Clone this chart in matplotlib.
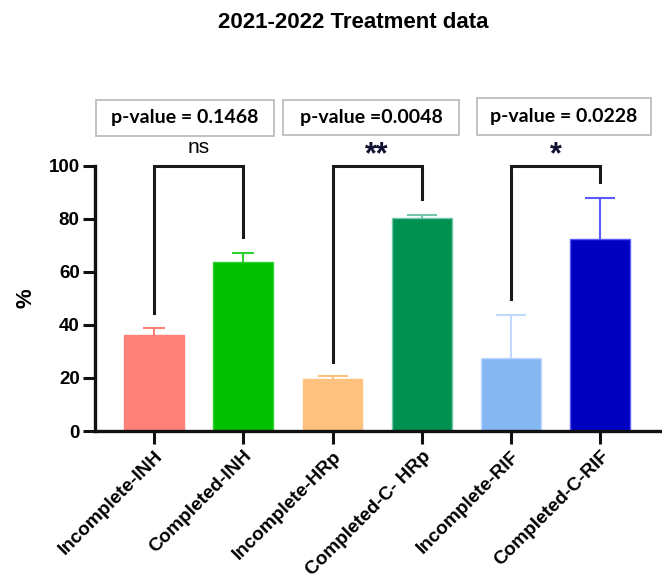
import matplotlib.pyplot as plt
from matplotlib.patches import Rectangle

# data
groups = ['Incomplete-INH', 'Completed-INH', 'Incomplete-HRp',
          'Completed-C- HRp', 'Incomplete-RIF', 'Completed-C-RIF']
means = [36.1, 63.7, 19.7, 80.4, 27.5, 72.2]
errs = [2.7, 3.3, 1.1, 1.2, 16.2, 15.8]
bar_colors = ['#FF8078', '#00C000', '#FFC27E', '#009050', '#85B8F2', '#0000C0']
err_colors = ['#FF8078', '#30D030', '#FFC27E', '#70C8A8', '#C0DAFF', '#5A5AFF']
capsizes = [8, 8, 11, 11, 11, 11]

# comparisons: (left bar, right bar), leg ends, mark, p-value text
pairs = [(0, 1), (2, 3), (4, 5)]
leg_ends = [(44.6, 73.0), (26.0, 87.4), (49.7, 94.0)]
marks = ['ns', '**', '*']
pvals = ['p-value = 0.1468', 'p-value =0.0048', 'p-value = 0.0228']

W, H = 662, 583
fig = plt.figure(figsize=(W / 100, H / 100), dpi=100)
ax = fig.add_axes([95 / W, 1 - 431 / H, 1 - 95 / W, (431 - 165.7) / H])

x = list(range(len(groups)))
ax.bar(x, means, width=0.67, color=bar_colors, edgecolor=err_colors, linewidth=1, zorder=2)
for i in x:
    eb = ax.errorbar(i, means[i], yerr=[[0], [errs[i]]], fmt='none', ecolor=err_colors[i],
                     elinewidth=1.5, capsize=capsizes[i], capthick=1.5, zorder=1)
    eb[1][0].set_visible(False)  # no cap at the bar top

ax.set_xlim(-0.66, 5.69)
ax.set_ylim(0, 100)
ax.set_yticks([0, 20, 40, 60, 80, 100])
ax.set_xticks(x)
ax.set_xticklabels(groups, rotation=45, ha='right', rotation_mode='anchor',
                   family='Liberation Sans', fontweight='bold', fontsize=13.7)
for lab in ax.get_yticklabels():
    lab.set_family('Liberation Sans')
    lab.set_fontweight('bold')
    lab.set_fontsize(13.5)
ax.tick_params(axis='both', length=9, width=2.2, color='#111111', pad=2)
ax.tick_params(axis='x', pad=3)
for s in ['top', 'right']:
    ax.spines[s].set_visible(False)
for s in ['left', 'bottom']:
    ax.spines[s].set_linewidth(2.4)
    ax.spines[s].set_color('#111111')
ax.set_ylabel('%', family='Liberation Sans', fontweight='bold', fontsize=16, labelpad=9)

# significance brackets
for (a, b), (ya, yb) in zip(pairs, leg_ends):
    ax.plot([a, a, b, b], [ya, 100, 100, yb], color='#1a1a1a', lw=2.2,
            clip_on=False, zorder=3, solid_joinstyle='miter')

# marks above brackets
mark_y = 1 - 147 / H
for (a, b), m in zip(pairs, marks):
    xm = ax.transData.transform(((a + b) / 2, 0))[0] / W
    if m == 'ns':
        fig.text(xm, mark_y, m, ha='center', va='center', family='Liberation Sans', fontsize=15)
    else:
        fig.text(xm, mark_y - 0.014, m, ha='center', va='center', family='Liberation Sans',
                 fontweight='bold', fontsize=22, color='#101030')

# p-value boxes
boxes = [(96, 100, 274, 136), (283, 100, 459, 135), (477, 98, 651, 135)]
for (x0, y0, x1, y1), t in zip(boxes, pvals):
    fig.patches.append(Rectangle((x0 / W, 1 - y1 / H), (x1 - x0) / W, (y1 - y0) / H,
                                 transform=fig.transFigure, facecolor='white',
                                 edgecolor='#bdbdbd', lw=1.3))
    fig.text((x0 + x1) / 2 / W, 1 - (y0 + y1) / 2 / H, t, ha='center', va='center',
             family='Lato', fontweight='bold', fontsize=14)

fig.text(353 / W, 1 - 22 / H, '2021-2022 Treatment data', ha='center', va='center',
         family='Liberation Sans', fontweight='bold', fontsize=16)

fig.savefig('out.png', dpi=100)
